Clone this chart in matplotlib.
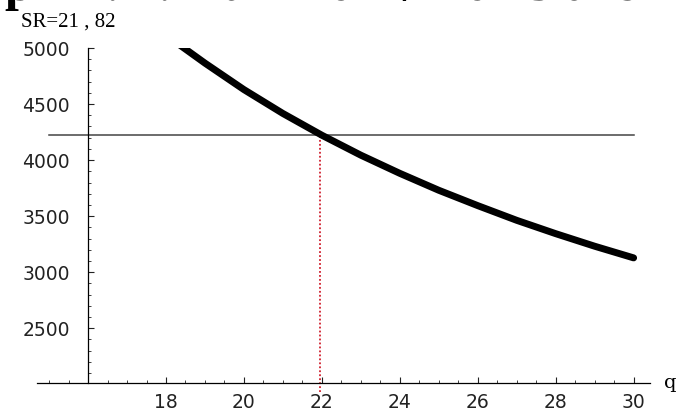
import numpy as np
import matplotlib
matplotlib.use("Agg")
import matplotlib.pyplot as plt
from matplotlib.ticker import MultipleLocator, FixedLocator

# Données
# ---------------------------------------------
q = [18.3, 19, 20, 21, 22, 23, 24, 25, 26, 27, 28, 29, 30]
cout = [5040, 4865, 4629, 4416, 4222, 4044, 3882, 3731, 3594, 3463, 3344, 3232, 3128]
niveau = 4222          # ligne horizontale
q_opt = 21.95          # ligne verticale pointillée
titre = "ple 2.2 : Durée de vie de 3 ans"
etiquette_y = "SR=21 , 82"
etiquette_x = "q"
yticks_maj = [2500, 3000, 3500, 4000, 4500, 5000]
xticks_maj = [18, 20, 22, 24, 26, 28, 30]

W, H = 684, 413
fig = plt.figure(figsize=(W / 100, H / 100), dpi=100)

# zone de tracé (axes façon Mathematica)
x0, x1 = 14.69, 30.42
y0, y1 = 2012, 5000
ax = fig.add_axes([37 / W, 30 / H, 613 / W, 335 / H])
ax.set_xlim(x0, x1)
ax.set_ylim(y0, y1)

for s in ["top", "right"]:
    ax.spines[s].set_visible(False)
ax.spines["left"].set_position(("data", 16))
ax.spines["bottom"].set_position(("data", y0))
ax.spines["left"].set_linewidth(0.9)
ax.spines["bottom"].set_linewidth(0.9)

ax.xaxis.set_major_locator(FixedLocator(xticks_maj))
ax.xaxis.set_minor_locator(FixedLocator(np.arange(15, 30.01, 0.5)))
ax.yaxis.set_major_locator(FixedLocator(yticks_maj))
ax.yaxis.set_minor_locator(MultipleLocator(100))

ax.tick_params(axis="both", which="major", direction="in", length=4, width=0.8,
               labelsize=13.5, colors="#222222")
ax.tick_params(axis="both", which="minor", direction="in", length=2.2, width=0.6,
               colors="#222222")
ax.tick_params(axis="x", which="major", pad=7.5)
ax.tick_params(axis="y", which="major", pad=13)

# courbe
ax.plot(q, cout, color="black", lw=5, solid_capstyle="round", zorder=3)

# repères
ax.plot([15, 30], [niveau, niveau], color="#444444", lw=1.1, zorder=2)
ax.plot([q_opt, q_opt], [1932, niveau], color="#d0202e", lw=1.3,
        linestyle=(0, (1, 1.2)), clip_on=False, zorder=2)

ax.text(30.78, y0, etiquette_x, fontsize=14, family="DejaVu Serif",
        va="center", ha="left", clip_on=False)

fig.text(21 / W, 1 - 27 / H, etiquette_y, fontsize=15, family="Liberation Serif",
         va="baseline", ha="left")
fig.text(5 / W, 1 + 0.5 / H, titre, fontsize=36, family="Liberation Serif",
         weight="bold", va="baseline", ha="left")

fig.savefig("out.png", dpi=100)
